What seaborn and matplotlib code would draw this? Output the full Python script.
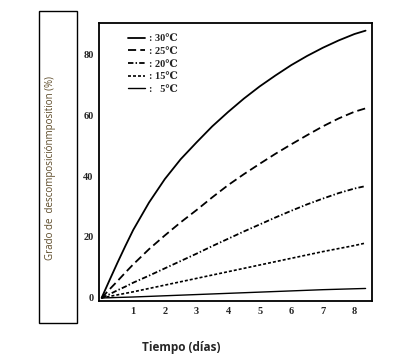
import matplotlib
matplotlib.use("Agg")
import matplotlib.pyplot as plt
import matplotlib.patches as mpatches
from matplotlib.lines import Line2D
import pandas as pd
import seaborn as sns

# Datos
dias = [0, 0.25, 0.5, 0.75, 1, 1.5, 2, 2.5, 3, 3.5, 4, 4.5, 5, 5.5, 6, 6.5, 7, 7.5, 8, 8.35]
t30 = [0, 5.8, 11.5, 17.0, 22.3, 31.3, 39.0, 45.5, 51.0, 56.3, 61.0, 65.4, 69.4, 73.0, 76.4, 79.4, 82.1, 84.5, 86.6, 87.7]
t25 = [0, 2.8, 5.5, 8.3, 11.0, 16.0, 20.5, 24.8, 28.8, 33.0, 37.0, 40.6, 44.0, 47.3, 50.4, 53.4, 56.3, 58.9, 61.1, 62.2]
t20 = [0, 1.2, 2.5, 3.7, 5.0, 7.3, 9.7, 12.1, 14.5, 17.0, 19.4, 21.8, 24.1, 26.4, 28.6, 30.7, 32.6, 34.4, 35.9, 36.7]
t15 = [0, 0.5, 1.0, 1.5, 2.0, 3.1, 4.2, 5.3, 6.4, 7.5, 8.6, 9.7, 10.8, 11.9, 13.0, 14.1, 15.2, 16.2, 17.2, 18.0]
t5 = [0, 0.05, 0.15, 0.22, 0.3, 0.5, 0.7, 0.9, 1.1, 1.3, 1.5, 1.7, 1.9, 2.1, 2.3, 2.5, 2.7, 2.85, 3.0, 3.1]
etiquetas = [": 30\u2103", ": 25\u2103", ": 20\u2103", ": 15\u2103", ":   5\u2103"]
xticks = [1, 2, 3, 4, 5, 6, 7, 8]
yticks = [0, 20, 40, 60, 80]

sns.set_style("white")
plt.rcParams['font.family'] = ['Liberation Serif', 'DejaVu Serif']

series = [t30, t25, t20, t15, t5]
estilos = [(None, 1.3), ((4.5, 2.3), 1.3), ((3.0, 1.2, 0.8, 1.2), 1.3), ((1.8, 1.2), 1.2), (None, 1.0)]

fig = plt.figure(figsize=(4.06, 3.6), dpi=100)
ax = fig.add_axes([0.244, 0.164, 0.672, 0.772])

handles = []
for vals, (dash, lw) in zip(series, estilos):
    df = pd.DataFrame({'dias': dias, 'valor': vals})
    sns.lineplot(data=df, x='dias', y='valor', ax=ax, color='black', lw=lw)
    line = ax.lines[-1]
    if dash is not None:
        line.set_dashes(dash)
    h = Line2D([0], [0], color='black', lw=lw)
    if dash is not None:
        h.set_dashes(dash)
    handles.append(h)

ax.set_xlim(-0.08, 8.55)
ax.set_ylim(-1, 90.2)
ax.set_xticks(xticks)
ax.set_yticks(yticks)
ax.set_xticklabels([str(v) for v in xticks], fontsize=7.5, fontweight='bold')
ax.set_yticklabels([str(v) for v in yticks], fontsize=7.5, fontweight='bold')
ax.tick_params(axis='y', direction='in', length=3, width=1, pad=4)
ax.tick_params(axis='x', length=0, pad=4)
ax.set_xlabel('')
ax.set_ylabel('')
for s in ax.spines.values():
    s.set_color('black')
    s.set_linewidth(1.3)

leg = ax.legend(handles, etiquetas, loc='upper left', bbox_to_anchor=(0.09, 0.975),
                frameon=False, fontsize=7.5, handlelength=1.7, handletextpad=0.3,
                labelspacing=0.32, borderaxespad=0)
for t in leg.get_texts():
    t.set_fontweight('bold')

# Caja de la etiqueta del eje y
fig.patches.append(mpatches.Rectangle((39 / 406, 1 - 323 / 360), 38 / 406, 312 / 360,
                                      transform=fig.transFigure, fill=False,
                                      edgecolor='black', lw=1.0))
fig.text(51 / 406, 1 - 168 / 360, 'Grado de  descomposici\u00f3nmposition (%)',
         rotation=90, ha='center', va='center', fontsize=7, color='#5c4a28',
         family=['Open Sans', 'DejaVu Sans'])
fig.text(181 / 406, 1 - 347 / 360, 'Tiempo (d\u00edas)', ha='center', va='center',
         fontsize=8.5, fontweight='bold', family=['Open Sans', 'DejaVu Sans'])

plt.savefig('out.png', dpi=100)
